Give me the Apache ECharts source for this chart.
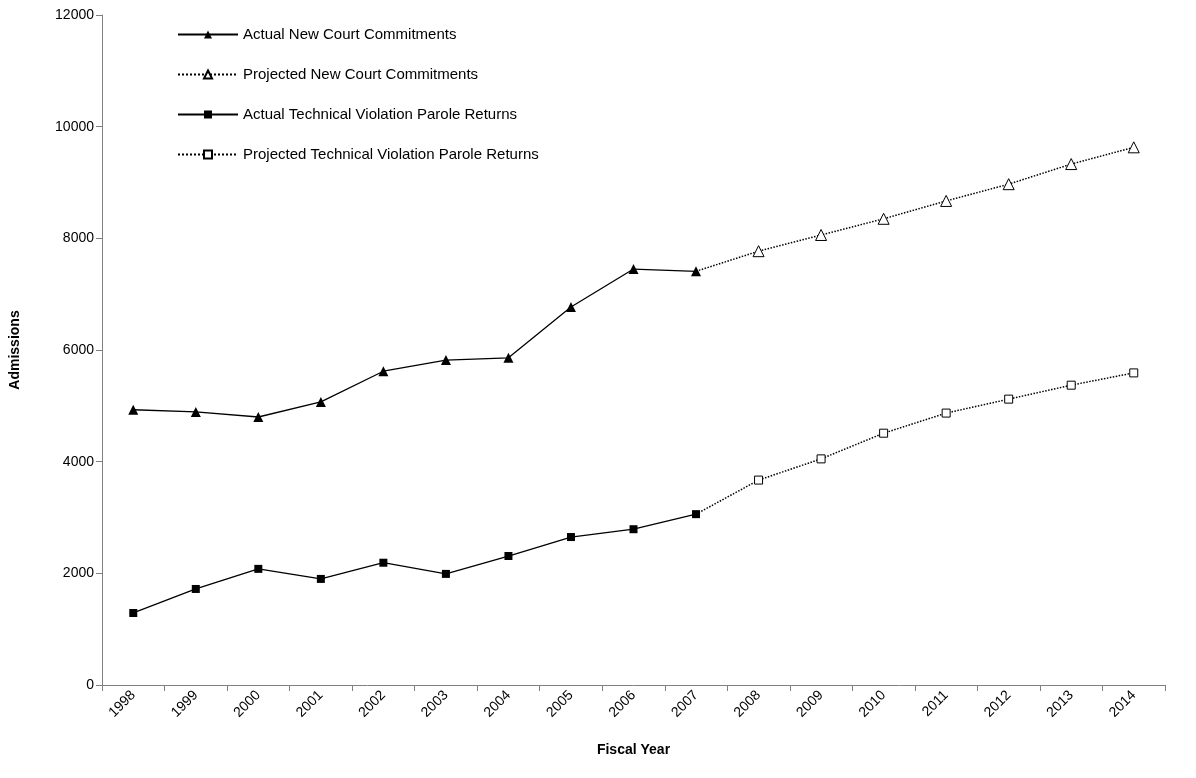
<!DOCTYPE html>
<html>
<head>
<meta charset="UTF-8">
<title>Admissions</title>
<script src="https://cdn.jsdelivr.net/npm/echarts@6/dist/echarts.min.js"></script>
<style>body{margin:0;background:#fff}#chart{width:1196px;height:778px}</style>
</head>
<body>
<div id="chart"></div>
<script type="text/javascript">
var years = ['1998','1999','2000','2001','2002','2003','2004','2005','2006','2007','2008','2009','2010','2011','2012','2013','2014'];
var actualNcc = [4930, 4890, 4800, 5070, 5620, 5820, 5860, 6770, 7450, 7410];
var projNcc = [7410, 7770, 8060, 8350, 8670, 8970, 9330, 9630];
var actualTv = [1290, 1720, 2080, 1900, 2190, 1990, 2310, 2650, 2790, 3060];
var projTv = [3060, 3670, 4050, 4510, 4870, 5120, 5370, 5590];

var chart = echarts.init(document.getElementById('chart'));
var font = 'Liberation Sans, Arial, sans-serif';

function pad(arr, offset) {
	var out = [];
	for (var i = 0; i < years.length; i++) {
		out.push(i >= offset && i - offset < arr.length ? arr[i - offset] : '-');
	}
	return out;
}
function projData(arr) {
	var d = pad(arr, 9);
	d[9] = { value: arr[0], symbol: 'none' };
	return d;
}

chart.setOption({
	animation: false,
	textStyle: { fontFamily: font, color: '#000' },
	grid: { left: 100, right: 31, top: 15, bottom: 93 },
	legend: {
		orient: 'vertical', left: 172, top: 22, itemGap: 25, itemWidth: 60, itemHeight: 10,
		textStyle: { fontSize: 15, fontFamily: font, color: '#000' },
		data: ['Actual New Court Commitments', 'Projected New Court Commitments',
			'Actual Technical Violation Parole Returns', 'Projected Technical Violation Parole Returns']
	},
	xAxis: {
		type: 'category', data: years, boundaryGap: true,
		name: 'Fiscal Year', nameLocation: 'middle', nameGap: 58,
		nameTextStyle: { fontWeight: 'bold', fontSize: 14 },
		axisLine: { lineStyle: { color: '#808080' } },
		axisTick: { show: true, length: 6, inside: false, lineStyle: { color: '#808080' } },
		axisLabel: { rotate: 45, fontSize: 14, color: '#000', margin: 8 }
	},
	yAxis: {
		type: 'value', min: 0, max: 12000, interval: 2000,
		name: 'Admissions', nameLocation: 'middle', nameGap: 80, nameRotate: 90,
		nameTextStyle: { fontWeight: 'bold', fontSize: 14 },
		axisLine: { show: true, lineStyle: { color: '#808080' } },
		axisTick: { show: true, length: 6, lineStyle: { color: '#808080' } },
		axisLabel: { fontSize: 14, color: '#000', formatter: function (v) { return String(v); } },
		splitLine: { show: false }
	},
	series: [{
		name: 'Actual New Court Commitments', type: 'line', data: pad(actualNcc, 0),
		symbol: 'triangle', symbolSize: 10,
		lineStyle: { color: '#000', width: 1.3 }, itemStyle: { color: '#000' }
	}, {
		name: 'Projected New Court Commitments', type: 'line', data: projData(projNcc),
		symbol: 'triangle', symbolSize: 11, showAllSymbol: true,
		lineStyle: { color: '#000', width: 1.5, type: 'dotted' },
		itemStyle: { color: '#fff', borderColor: '#000', borderWidth: 1 }
	}, {
		name: 'Actual Technical Violation Parole Returns', type: 'line', data: pad(actualTv, 0),
		symbol: 'rect', symbolSize: 8,
		lineStyle: { color: '#000', width: 1.3 }, itemStyle: { color: '#000' }
	}, {
		name: 'Projected Technical Violation Parole Returns', type: 'line', data: projData(projTv),
		symbol: 'rect', symbolSize: 8, showAllSymbol: true,
		lineStyle: { color: '#000', width: 1.5, type: 'dotted' },
		itemStyle: { color: '#fff', borderColor: '#000', borderWidth: 1 }
	}]
});
</script>
</body>
</html>
